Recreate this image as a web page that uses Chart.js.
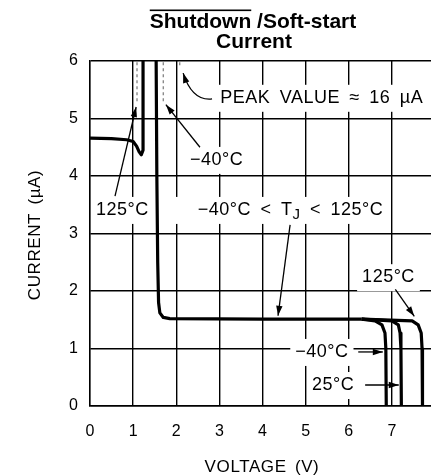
<!DOCTYPE html>
<html>
<head>
<meta charset="utf-8">
<script src="https://cdn.jsdelivr.net/npm/chart.js@4.4.0/dist/chart.umd.min.js"></script>
<style>
  html, body { margin: 0; padding: 0; background: #fff; overflow: hidden; }
</style>
</head>
<body>
<canvas id="shdnChart" width="440" height="476"></canvas>
<script>
// DATA
const xTicks = [0, 1, 2, 3, 4, 5, 6, 7, 8];
const yTicks = [0, 1, 2, 3, 4, 5, 6];

// common curve: flat start, dip, rise off the top, back down, plateau
const mainV = [0, 0.5, 0.85, 1.0, 1.08, 1.14, 1.19, 1.23, 1.23, 1.53, 1.55, 1.57, 1.59, 1.62, 1.7, 1.85, 4.0, 6.3];
const mainI = [4.66, 4.65, 4.63, 4.6, 4.52, 4.42, 4.37, 4.45, 6.5, 6.5, 4.0, 2.5, 1.8, 1.62, 1.54, 1.52, 1.51, 1.51];

// shutdown edge for each temperature
const m40V = [6.3, 6.61, 6.77, 6.84, 6.86, 6.87];
const m40I = [1.51, 1.48, 1.41, 1.27, 1.0, 0];
const t25V = [6.3, 7.0, 7.15, 7.19, 7.21, 7.22];
const t25I = [1.51, 1.48, 1.41, 1.27, 1.0, 0];
const t125V = [6.3, 7.47, 7.61, 7.68, 7.7, 7.71];
const t125I = [1.51, 1.48, 1.41, 1.27, 1.0, 0];

// dotted peaks (off scale, peak ~16 uA)
const pk125V = [1.09, 1.09];
const pk125I = [6.5, 5.25];
const pkM40V = [1.7, 1.7];
const pkM40I = [6.5, 5.27];
const pkMaxV = [2.08, 2.08];
const pkMaxI = [6.5, 5.9];

const toPts = (xs, ys) => xs.map((x, i) => ({ x: x, y: ys[i] }));

const FONT = '"Liberation Sans", Arial, sans-serif';

// annotation texts with arrows, placed in data units
const notes = [
    { parts: [{ t: 'PEAK VALUE \u2248 16 \u00b5A' }], x: 3.02, y: 5.36, from: [2.83, 5.34], ctrl: [2.37, 5.3], to: [2.16, 5.79] },
    { parts: [{ t: '\u221240\u00b0C' }], x: 2.32, y: 4.28, from: [2.55, 4.5], to: [1.76, 5.24] },
    { parts: [{ t: '125\u00b0C' }], x: 0.14, y: 3.41, from: [0.58, 3.65], to: [1.07, 5.2] },
    { parts: [{ t: '\u221240\u00b0C < T' }, { t: 'J', sub: true }, { t: ' < 125\u00b0C' }], x: 2.5, y: 3.41, padL: 22, from: [4.64, 3.15], to: [4.36, 1.57] },
    { parts: [{ t: '125\u00b0C' }], x: 6.31, y: 2.24, from: [7.08, 2.03], to: [7.52, 1.56] },
    { parts: [{ t: '\u221240\u00b0C' }], x: 4.76, y: 0.94, from: [6.22, 0.94], to: [6.79, 0.94] },
    { parts: [{ t: '25\u00b0C' }], x: 5.15, y: 0.365, from: [6.38, 0.365], to: [7.16, 0.365] }
];

function setNoteFont(ctx, sub) {
    ctx.font = (sub ? 15 : 18) + 'px ' + FONT;
    ctx.letterSpacing = '0.5px';
    ctx.wordSpacing = '4px';
}

function noteWidth(ctx, n) {
    let w = 0;
    n.parts.forEach(p => { setNoteFont(ctx, p.sub); w += ctx.measureText(p.t).width; });
    return w;
}

function drawArrow(ctx, x0, y0, x1, y1, cx, cy) {
    ctx.beginPath();
    ctx.moveTo(x0, y0);
    if (cx !== undefined) ctx.quadraticCurveTo(cx, cy, x1, y1);
    else ctx.lineTo(x1, y1);
    ctx.stroke();
    const bx = cx !== undefined ? cx : x0, by = cx !== undefined ? cy : y0;
    const a = Math.atan2(y1 - by, x1 - bx);
    const L = 10, W = 3.2;
    ctx.beginPath();
    ctx.moveTo(x1, y1);
    ctx.lineTo(x1 - L * Math.cos(a) + W * Math.sin(a), y1 - L * Math.sin(a) - W * Math.cos(a));
    ctx.lineTo(x1 - L * Math.cos(a) - W * Math.sin(a), y1 - L * Math.sin(a) + W * Math.cos(a));
    ctx.closePath();
    ctx.fill();
}

const notesPlugin = {
    id: 'notes',
    beforeDatasetsDraw(chart) {
        // white boxes behind the texts break the grid lines
        const ctx = chart.ctx, sx = chart.scales.x, sy = chart.scales.y;
        ctx.save();
        ctx.fillStyle = '#fff';
        notes.forEach(n => {
            const px = sx.getPixelForValue(n.x), py = sy.getPixelForValue(n.y);
            const w = noteWidth(ctx, n);
            const pl = n.padL || 5;
            ctx.fillRect(px - pl, py - 13, w + pl + 5, 27);
        });
        ctx.restore();
    },
    afterDatasetsDraw(chart) {
        const ctx = chart.ctx, sx = chart.scales.x, sy = chart.scales.y;
        ctx.save();
        ctx.fillStyle = '#000';
        ctx.strokeStyle = '#000';
        ctx.lineWidth = 1.3;
        ctx.textBaseline = 'middle';
        ctx.textAlign = 'left';
        notes.forEach(n => {
            let px = sx.getPixelForValue(n.x);
            const py = sy.getPixelForValue(n.y);
            n.parts.forEach(p => {
                setNoteFont(ctx, p.sub);
                ctx.fillText(p.t, px, py + (p.sub ? 5 : 0));
                px += ctx.measureText(p.t).width;
            });
            ctx.letterSpacing = '0px';
            ctx.wordSpacing = '0px';
            const f = [sx.getPixelForValue(n.from[0]), sy.getPixelForValue(n.from[1])];
            const t = [sx.getPixelForValue(n.to[0]), sy.getPixelForValue(n.to[1])];
            if (n.ctrl) drawArrow(ctx, f[0], f[1], t[0], t[1], sx.getPixelForValue(n.ctrl[0]), sy.getPixelForValue(n.ctrl[1]));
            else drawArrow(ctx, f[0], f[1], t[0], t[1]);
        });
        ctx.restore();
    },
    afterDraw(chart) {
        const ctx = chart.ctx;
        ctx.save();
        ctx.fillStyle = '#000';
        // title, "Shutdown" overlined
        ctx.font = 'bold 21px ' + FONT;
        ctx.textBaseline = 'alphabetic';
        ctx.textAlign = 'left';
        const l1 = 'Shutdown /Soft-start';
        const w1 = ctx.measureText(l1).width;
        const x1 = 253 - w1 / 2;
        ctx.fillText(l1, x1, 28);
        const wShd = ctx.measureText('Shutdown').width;
        ctx.fillRect(x1, 9.5, wShd, 1.6);
        ctx.textAlign = 'center';
        ctx.fillText('Current', 254, 48);

        // axis titles
        ctx.font = '17px ' + FONT;
        ctx.letterSpacing = '0.6px';
        ctx.wordSpacing = '3px';
        ctx.textBaseline = 'middle';
        ctx.fillText('VOLTAGE (V)', 262, 467);
        ctx.translate(35, 235);
        ctx.rotate(-Math.PI / 2);
        ctx.fillText('CURRENT (\u00b5A)', 0, 0);
        ctx.restore();
    }
};

const solid = (xs, ys) => ({ data: toPts(xs, ys), borderColor: '#000', borderWidth: 3.2, pointRadius: 0, tension: 0, borderJoinStyle: 'round' });
const dotted = (xs, ys) => ({ data: toPts(xs, ys), borderColor: '#8a8a8a', borderWidth: 1.4, borderDash: [3, 3], pointRadius: 0, tension: 0 });

const chart = new Chart(document.getElementById('shdnChart').getContext('2d'), {
    type: 'line',
    data: {
        datasets: [
            dotted(pk125V, pk125I),
            dotted(pkM40V, pkM40I),
            dotted(pkMaxV, pkMaxI),
            solid(mainV, mainI),
            solid(m40V, m40I),
            solid(t25V, t25I),
            solid(t125V, t125I)
        ]
    },
    options: {
        responsive: false,
        animation: false,
        layout: { padding: { top: 61, right: 5, left: 0, bottom: 0 } },
        plugins: { legend: { display: false }, tooltip: { enabled: false }, title: { display: false } },
        scales: {
            x: {
                type: 'linear', min: 0, max: 8,
                afterFit: s => { s.height = 70; s.paddingRight = 0; s.paddingLeft = 0; },
                afterBuildTicks: s => { s.ticks = xTicks.map(v => ({ value: v })); },
                grid: { color: '#000', lineWidth: 1.4, drawTicks: false },
                border: { color: '#000', width: 1.4 },
                ticks: { color: '#000', font: { family: FONT, size: 16 }, padding: 16, maxRotation: 0, autoSkip: false }
            },
            y: {
                min: 0, max: 6,
                afterFit: s => { s.width = 90; s.paddingTop = 0; s.paddingBottom = 0; },
                afterBuildTicks: s => { s.ticks = yTicks.map(v => ({ value: v })); },
                grid: { color: '#000', lineWidth: 1.4, drawTicks: false },
                border: { color: '#000', width: 1.4 },
                ticks: { color: '#000', font: { family: FONT, size: 16 }, padding: 12 }
            }
        }
    },
    plugins: [notesPlugin]
});
</script>
</body>
</html>
